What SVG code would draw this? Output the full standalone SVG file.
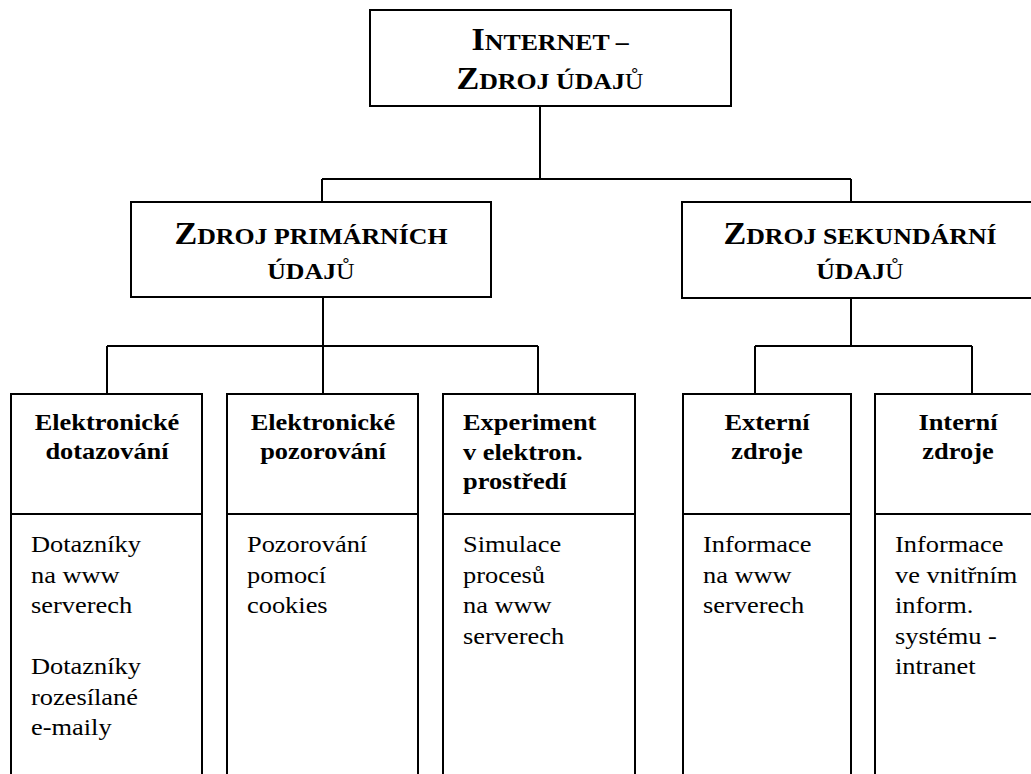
<svg xmlns="http://www.w3.org/2000/svg" width="1031" height="774" viewBox="0 0 1031 774">
<style>
.box{fill:#fff;stroke:#000;stroke-width:2}
.ln{fill:none;stroke:#000;stroke-width:2}
.h{font-family:"Liberation Serif","Times New Roman",serif;font-weight:bold;text-anchor:middle;fill:#000}
.big{font-size:31px}
.sc{font-size:23.5px}
.nb{font-weight:normal}
.t{font-family:"Liberation Serif","Times New Roman",serif;font-weight:bold;font-size:24px;fill:#000}
.c{text-anchor:middle}
.r{font-family:"Liberation Serif","Times New Roman",serif;font-size:24px;fill:#000}
</style>
<rect width="1031" height="774" fill="#fff"/>
<g id="connectors">
<path class="ln" d="M540 106V179M322 179H851M322 179V202M851 179V202"/>
<path class="ln" d="M323 297V346M107 346H538M107 346V394M323 346V394M538 346V394"/>
<path class="ln" d="M851 298V346M755 346H972M755 346V394M972 346V394"/>
</g>
<g id="internet">
<rect class="box" x="370" y="10" width="361" height="96"/>
<text class="h" transform="translate(550 50) scale(1.1 1)"><tspan class="big">I</tspan><tspan class="sc">NTERNET –</tspan></text>
<text class="h" transform="translate(550 89) scale(1.1 1)"><tspan class="big">Z</tspan><tspan class="sc">DROJ ÚDAJ</tspan><tspan class="sc nb">Ů</tspan></text>
</g>
<g id="primarni">
<rect class="box" x="131" y="202" width="360" height="95"/>
<text class="h" transform="translate(311 244) scale(1.1 1)"><tspan class="big">Z</tspan><tspan class="sc">DROJ PRIMÁRNÍCH</tspan></text>
<text class="h" transform="translate(311 279) scale(1.1 1)"><tspan class="sc">ÚDAJ</tspan><tspan class="sc nb">Ů</tspan></text>
</g>
<g id="sekundarni">
<rect class="box" x="682" y="202" width="358" height="96"/>
<text class="h" transform="translate(860 244) scale(1.1 1)"><tspan class="big">Z</tspan><tspan class="sc">DROJ SEKUNDÁRNÍ</tspan></text>
<text class="h" transform="translate(860 279) scale(1.1 1)"><tspan class="sc">ÚDAJ</tspan><tspan class="sc nb">Ů</tspan></text>
</g>
<g id="dotazovani">
<rect class="box" x="11" y="394" width="191" height="400"/>
<path class="ln" d="M11 514H202"/>
<text class="t c" transform="translate(107 430) scale(1.1 1)">Elektronické</text>
<text class="t c" transform="translate(107 459) scale(1.1 1)">dotazování</text>
<text class="r" transform="translate(31 552) scale(1.1 1)">Dotazníky</text>
<text class="r" transform="translate(31 582.5) scale(1.1 1)">na www</text>
<text class="r" transform="translate(31 613) scale(1.1 1)">serverech</text>
<text class="r" transform="translate(31 674) scale(1.1 1)">Dotazníky</text>
<text class="r" transform="translate(31 704.5) scale(1.1 1)">rozesílané</text>
<text class="r" transform="translate(31 735) scale(1.1 1)">e-maily</text>
</g>
<g id="pozorovani">
<rect class="box" x="227" y="394" width="191" height="400"/>
<path class="ln" d="M227 514H418"/>
<text class="t c" transform="translate(323 430) scale(1.1 1)">Elektronické</text>
<text class="t c" transform="translate(323 459) scale(1.1 1)">pozorování</text>
<text class="r" transform="translate(247 552) scale(1.1 1)">Pozorování</text>
<text class="r" transform="translate(247 582.5) scale(1.1 1)">pomocí</text>
<text class="r" transform="translate(247 613) scale(1.1 1)">cookies</text>
</g>
<g id="experiment">
<rect class="box" x="443" y="394" width="192" height="400"/>
<path class="ln" d="M443 514H635"/>
<text class="t" transform="translate(463 430) scale(1.1 1)">Experiment</text>
<text class="t" transform="translate(463 459.5) scale(1.1 1)">v elektron.</text>
<text class="t" transform="translate(463 489) scale(1.1 1)">prostředí</text>
<text class="r" transform="translate(463 552) scale(1.1 1)">Simulace</text>
<text class="r" transform="translate(463 582.5) scale(1.1 1)">procesů</text>
<text class="r" transform="translate(463 613) scale(1.1 1)">na www</text>
<text class="r" transform="translate(463 643.5) scale(1.1 1)">serverech</text>
</g>
<g id="externi">
<rect class="box" x="683" y="394" width="168" height="400"/>
<path class="ln" d="M683 514H851"/>
<text class="t c" transform="translate(767 430) scale(1.1 1)">Externí</text>
<text class="t c" transform="translate(767 459) scale(1.1 1)">zdroje</text>
<text class="r" transform="translate(703 552) scale(1.1 1)">Informace</text>
<text class="r" transform="translate(703 582.5) scale(1.1 1)">na www</text>
<text class="r" transform="translate(703 613) scale(1.1 1)">serverech</text>
</g>
<g id="interni">
<rect class="box" x="875" y="394" width="166" height="400"/>
<path class="ln" d="M875 514H1041"/>
<text class="t c" transform="translate(958 430) scale(1.1 1)">Interní</text>
<text class="t c" transform="translate(958 459) scale(1.1 1)">zdroje</text>
<text class="r" transform="translate(895 552) scale(1.1 1)">Informace</text>
<text class="r" transform="translate(895 582.5) scale(1.1 1)">ve vnitřním</text>
<text class="r" transform="translate(895 613) scale(1.1 1)">inform.</text>
<text class="r" transform="translate(895 643.5) scale(1.1 1)">systému -</text>
<text class="r" transform="translate(895 674) scale(1.1 1)">intranet</text>
</g>
</svg>
